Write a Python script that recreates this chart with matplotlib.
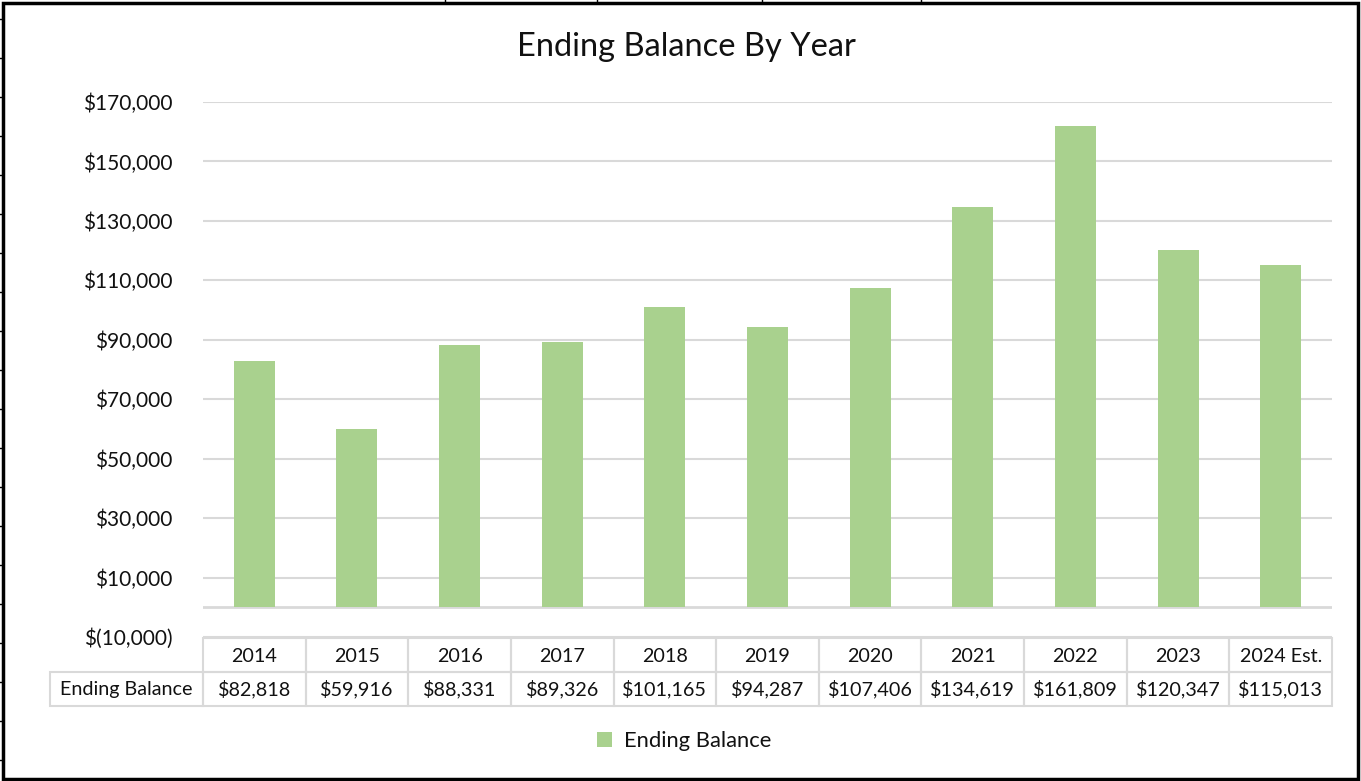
import numpy as np
import matplotlib
matplotlib.use("Agg")
import matplotlib.pyplot as plt
from matplotlib.ticker import FuncFormatter
from matplotlib.patches import Rectangle
from matplotlib.lines import Line2D

# data
years = ['2014', '2015', '2016', '2017', '2018', '2019', '2020',
         '2021', '2022', '2023', '2024 Est.']
balance = [82818, 59916, 88331, 89326, 101165, 94287, 107406,
           134619, 161809, 120347, 115013]
series_name = 'Ending Balance'
y_ticks = list(range(-10000, 170001, 20000))

plt.rcParams['font.family'] = ['Lato', 'DejaVu Sans']
txt = '#111111'
grid_c = '#D9D9D9'
bar_c = '#A9D18E'

W, H = 1361, 781
fig = plt.figure(figsize=(W / 100, H / 100), dpi=100)

# plot area in pixels: x 203..1332, y 102..637
ax = fig.add_axes([203 / W, (H - 637) / H, (1332 - 203) / W, (637 - 102) / H])

x = np.arange(len(years))
ax.bar(x, balance, width=0.4, color=bar_c, zorder=3)
ax.set_xlim(-0.5, len(years) - 0.5)
ax.set_ylim(-10000, 170000)
ax.set_yticks(y_ticks)


def money(v, pos):
    if v < 0:
        return '$({:,.0f})'.format(-v)
    return '${:,.0f}'.format(v)


ax.yaxis.set_major_formatter(FuncFormatter(money))
ax.tick_params(axis='y', length=0, pad=22, labelsize=15, labelcolor=txt)
ax.set_xticks([])
ax.grid(axis='y', color=grid_c, linewidth=1.5, zorder=0)
ax.axhline(0, color=grid_c, linewidth=2, zorder=2)
for s in ax.spines.values():
    s.set_visible(False)

# data table below the plot, sharing the bar columns
col_px = (1332 - 203) / len(years)
lab_cols = (203 - 50) / col_px
tax = fig.add_axes([50 / W, (H - 706) / H, (1332 - 50) / W, (706 - 638) / H])
tax.set_xlim(-0.5 - lab_cols, len(years) - 0.5)
tax.set_ylim(0, 2)
tax.axis('off')
cell_kw = dict(fill=False, edgecolor=grid_c, linewidth=1.5, clip_on=False)
for j, yr in enumerate(years):
    tax.add_patch(Rectangle((j - 0.5, 1), 1, 1, **cell_kw))
    tax.add_patch(Rectangle((j - 0.5, 0), 1, 1, **cell_kw))
    tax.text(j, 1.45, yr, ha='center', va='center', fontsize=14.2, color=txt)
    tax.text(j, 0.5, '${:,.0f}'.format(balance[j]), ha='center', va='center',
             fontsize=14.2, color=txt)
tax.add_patch(Rectangle((-0.5 - lab_cols, 0), lab_cols, 1, **cell_kw))
tax.text(-0.5 - lab_cols / 2, 0.5, series_name, ha='center', va='center',
         fontsize=14.2, color=txt)

fig.text(686 / W, 1 - 47 / H, 'Ending Balance By Year', ha='center',
         va='center', fontsize=23.5, color=txt)

handle = Rectangle((0, 0), 1, 1, facecolor=bar_c)
fig.legend([handle], [series_name], loc='center', bbox_to_anchor=(684 / W, 1 - 741 / H),
           frameon=False, fontsize=15.8, handlelength=0.7, handleheight=0.7,
           handletextpad=0.55, labelcolor=txt)

# outer frame and the little sheet gridline stubs around it
fig.add_artist(Rectangle((3 / W, 2 / H), (W - 6) / W, (H - 5) / H,
                         transform=fig.transFigure, fill=False,
                         edgecolor='black', linewidth=2.5))
for yy in np.arange(19, H, 39):
    fig.add_artist(Line2D([0, 3 / W], [1 - yy / H] * 2, color='black',
                          linewidth=1, transform=fig.transFigure))
for xx in [445, 597, 762, 921]:
    fig.add_artist(Line2D([xx / W] * 2, [1, 1 - 3 / H], color='black',
                          linewidth=1, transform=fig.transFigure))

fig.savefig('out.png', dpi=100, facecolor='white')
